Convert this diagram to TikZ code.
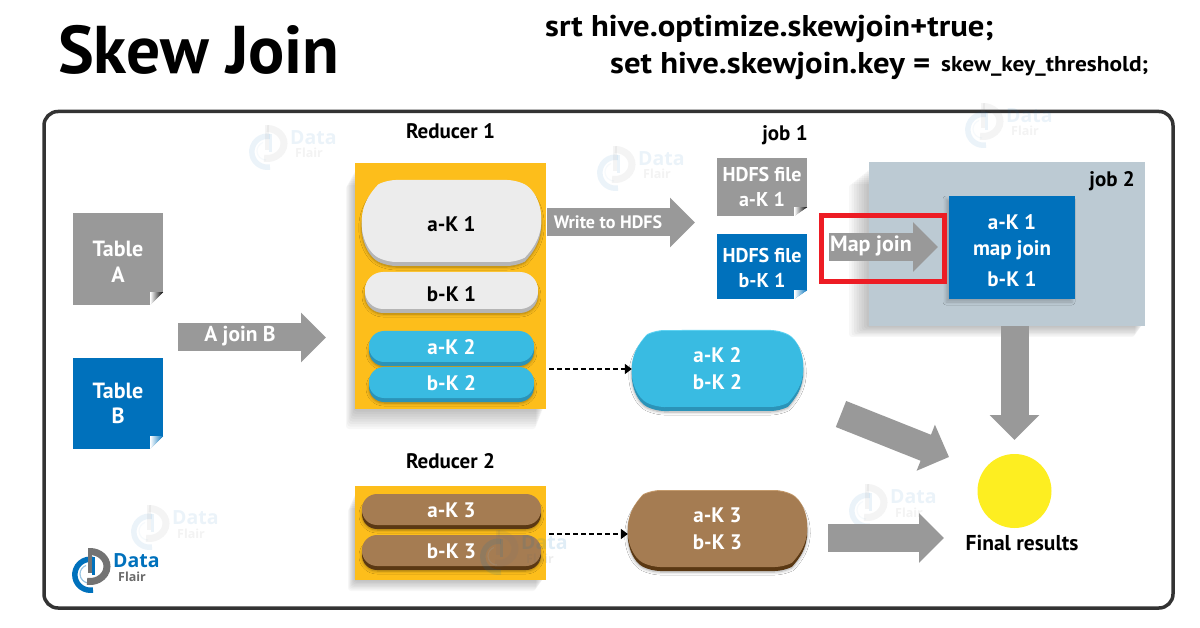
\documentclass[tikz,border=0pt]{standalone}
\usepackage{fontspec}
\setmainfont{PT Sans}
\newfontfamily\headfont[FakeStretch=1.09]{PT Sans}
\newfontfamily\logofont{Open Sans}
\usetikzlibrary{arrows.meta, positioning, calc, shapes.misc, shadows.blur}

\definecolor{dfgray}{HTML}{999999}
\definecolor{dfblue}{HTML}{0071BC}
\definecolor{dfyellow}{HTML}{FDBE1B}
\definecolor{dfsky}{HTML}{39BBE2}
\definecolor{dfskydark}{HTML}{2B93B8}
\definecolor{dfskylight}{HTML}{5FD3F2}
\definecolor{dfbrown}{HTML}{A57C52}
\definecolor{dfbrowndark}{HTML}{5A3813}
\definecolor{dfbrownlight}{HTML}{C49A6C}
\definecolor{dfpale}{HTML}{ECECEC}
\definecolor{dfpaledark}{HTML}{B5B5B5}
\definecolor{dfslate}{HTML}{BCCAD3}
\definecolor{dfred}{HTML}{ED1C24}
\definecolor{dfsun}{HTML}{FDEE21}

\tikzset{
  panel/.style={rectangle, inner sep=0pt, fill=#1},
  note/.style={rectangle, inner sep=0pt, fill=#1, text=white, font=\bfseries\fontsize{20}{24.5}\selectfont, align=center},
  pill/.style n args={3}{rounded rectangle, inner sep=0pt, fill=#1, align=center,
    blur shadow={shadow xshift=0pt, shadow yshift=-5pt, shadow blur steps=6, shadow blur radius=3pt, shadow opacity=35},
    preaction={fill=#2, transform canvas={yshift=-4pt}},
    preaction={fill=#3, transform canvas={yshift=1pt}},
    font=\bfseries\fontsize{21}{27}\selectfont},
  bigpill/.style={rounded rectangle arc length=125, rounded corners=9pt},
  label/.style={font=\bfseries\fontsize{21}{24}\selectfont, align=center},
  softlayer/.style={fill=black, fill opacity=0.03, rounded corners=3pt},
  blockarrow/.style={draw=dfgray, line width=28pt, -{Triangle[length=25pt, width=48pt, fill=dfgray]}},
  dasharrow/.style={line width=2.8pt, dash pattern=on 5pt off 3pt, -{Triangle[length=7pt, width=10pt]}},
}

\tikzset{
  dflogo/.pic={
    \draw[line width=5.5pt, draw=dfblue] (3,20) arc[start angle=80, end angle=280, radius=15.5];
    \draw[line width=1.2pt, draw=dfblue!40] (-1,13) arc[start angle=90, end angle=250, radius=9];
    \draw[line width=7pt, draw=dfgray!75!black] (0,-18.5) arc[start angle=270, end angle=460, x radius=17, y radius=15];
    \draw[line width=4pt, draw=dfgray!75!black] (0,-22) -- (0,3);
    \draw[line width=3.5pt, draw=dfblue] (3.5,-13) -- (3.5,5);
    \node[text=dfblue, font=\logofont\bfseries\fontsize{19.5}{19}\selectfont, anchor=base west, inner sep=0pt] (dfdata) at (23,-2.5) {Data};
    \node[text=dfgray!70!black, font=\logofont\bfseries\fontsize{12.5}{14}\selectfont, anchor=base west, inner sep=0pt] (dfflair) at (28,11) {Flair};
  }
}

\begin{document}
\begin{tikzpicture}[x=1pt, y=-1pt]
  \useasboundingbox (0,0) rectangle (1200,628);
  \fill[white] (0,0) rectangle (1200,628);

  % Headings
  \node[font=\bfseries\fontsize{67.5}{68}\selectfont, anchor=base west, inner sep=0pt] (title) at (58,74) {Skew Join};
  \node[font=\headfont\bfseries\fontsize{30}{30}\selectfont, anchor=base west, inner sep=0pt] (setone) at (545,37) {srt hive.optimize.skewjoin+true;};
  \node[font=\headfont\bfseries\fontsize{30}{30}\selectfont, anchor=base west, inner sep=0pt] (settwo) at (610,74) {set hive.skewjoin.key =};
  \node[font=\headfont\bfseries\fontsize{21.5}{22}\selectfont, anchor=base west, inner sep=0pt] (setthree) at (941,72) {skew\_key\_threshold;};

  % Outer frame
  \draw[line width=3.5pt, draw=black!80, rounded corners=14pt] (44,111.5) rectangle (1173,608);

  % Faint marks
  \foreach \mx/\my in {267/147, 615/168, 983/125, 149/527, 867/506}
    \pic[opacity=0.08] at (\mx,\my) {dflogo};

  % Tables
  \node[note=dfgray, font=\bfseries\fontsize{22}{26}\selectfont, minimum width=90pt, minimum height=92pt] (tablea) at (118,259) {\rule{0pt}{22pt}Table\\A};
  \node[note=dfblue, font=\bfseries\fontsize{22}{25}\selectfont, minimum width=90pt, minimum height=91pt] (tableb) at (118,403.5) {Table\\B};
  \node[note=dfgray, minimum width=90pt, minimum height=58pt] (hdfsa) at (762,187) {HDFS file\\a-K 1};
  \node[note=dfblue, minimum width=90pt, minimum height=65pt] (hdfsb) at (762,266.5) {\rule{0pt}{17pt}HDFS file\\b-K 1};

  % Folded corners
  \foreach \nd/\fw/\fh/\fc in {tablea/13/13/black, tableb/13/13/dfblue, hdfsa/13/9/black, hdfsb/13/9/dfblue} {
    \fill[white] (\nd.south east) -- ++(-\fw,0) -- ++(\fw,-\fh) -- cycle;
    \shade[left color=white, right color=\fc] (\nd.south east) ++(-\fw,0) -- ++(0,-\fh) -- ++(\fw,0) -- cycle;
  }

  % Soft edges
  \foreach \xa/\ya/\xb/\yb/\lw/\bd in {355/163/546/409/9/20, 355/486/546/580/7/11, 869/162/1145/326/20/11}
    \foreach \i in {1,...,8}
      \fill[softlayer] ({\xa-\lw*\i/8},{\ya+6+2*\i}) rectangle ({\xb-2-\i},{\yb+\bd*\i/8});

  % Reducer boxes
  \node[panel=dfyellow, minimum width=191pt, minimum height=246pt] (reducerone) at (450.5,286) {};
  \node[panel=dfyellow, minimum width=191pt, minimum height=94pt] (reducertwo) at (450.5,533) {};
  \node[panel=dfslate, minimum width=276pt, minimum height=164pt] (jobtwo) at (1007,244) {};

  \node[label, above=20pt of reducerone.north] (reduceronetext) {Reducer 1};
  \node[label, above=13pt of reducertwo.north] (reducertwotext) {Reducer 2};
  \node[label] (jobonetext) at (785,135) {job 1};

  % Keys
  \node[pill={dfpale}{dfpaledark}{dfpale}, bigpill, minimum width=179pt, minimum height=81pt] (akone) at (451.5,221.5) {\rule{0pt}{21pt}a-K 1};
  \node[pill={dfpale}{dfpaledark}{dfpale}, minimum width=173pt, minimum height=36pt] (bkone) at (451.5,291) {\rule{0pt}{21pt}b-K 1};
  \node[pill={dfsky}{dfskydark}{dfsky}, text=white, minimum width=165pt, minimum height=30pt] (aktwo) at (451.5,347) {a-K 2};
  \node[pill={dfsky}{dfskydark}{dfsky}, text=white, minimum width=165pt, minimum height=30pt] (bktwo) at (451.5,383) {b-K 2};
  \node[pill={dfbrown}{dfbrowndark}{dfbrown}, text=white, minimum width=179pt, minimum height=30pt] (akthree) at (451.5,510) {a-K 3};
  \node[pill={dfbrown}{dfbrowndark}{dfbrown}, text=white, minimum width=179pt, minimum height=30pt] (bkthree) at (451.5,551) {b-K 3};
  \node[pill={dfsky}{dfskydark}{dfskylight}, bigpill, text=white, minimum width=171pt, minimum height=76pt] (bigktwo) at (717.5,369) {a-K 2\\b-K 2};
  \node[pill={dfbrown}{dfbrowndark}{dfbrownlight}, bigpill, text=white, minimum width=179pt, minimum height=76pt] (bigkthree) at (717.5,529) {a-K 3\\b-K 3};

  % Job 2
  \node[label, anchor=base east, inner sep=0pt] (jobtwotext) at (1135,187) {job 2};
  \node[note=dfblue, font=\bfseries\fontsize{21}{26}\selectfont, minimum width=126pt, minimum height=103pt, blur shadow={shadow xshift=-3pt, shadow yshift=-3pt, shadow blur radius=3pt, shadow opacity=20}] (mapbox) at (1012,247.5) {\rule{0pt}{22pt}a-K 1\\map join\\[5pt]b-K 1};
  \node[draw=dfred, line width=5pt, minimum width=123pt, minimum height=66pt, inner sep=0pt] (mapframe) at (883,248.5) {};

  % Block arrows
  \coordinate (joinfrom) at (178,337.5);
  \coordinate (jointo) at (326,337.5);
  \coordinate (writefrom) at (547,222.5);
  \coordinate (writeto) at (695,222.5);
  \coordinate (mapfrom) at (829,247);
  \coordinate (mapto) at (938,247);
  \coordinate (downfrom) at (1014.5,326);
  \coordinate (downto) at (1014.5,440);
  \coordinate (slantfrom) at (841,414);
  \coordinate (slantto) at (949,457);
  \coordinate (flatfrom) at (828,538);
  \coordinate (flatto) at (944,538);
  \draw[blockarrow] (joinfrom) -- (jointo);
  \draw[blockarrow] (writefrom) -- (writeto);
  \draw[blockarrow] (mapfrom) -- (mapto);
  \draw[blockarrow] (downfrom) -- (downto);
  \draw[blockarrow] (slantfrom) -- (slantto);
  \draw[blockarrow] (flatfrom) -- (flatto);
  \node[label, text=white, font=\bfseries\fontsize{21.5}{24}\selectfont] (jointext) at (240,336) {A join B};
  \node[label, text=white, font=\bfseries\fontsize{18}{24}\selectfont] (writetext) at (608,222) {Write to HDFS};
  \node[label, text=white, font=\bfseries\fontsize{22}{24}\selectfont] (maptext) at (871,246) {Map join};

  % Spill paths
  \draw[dasharrow] (reducerone.east |- bigktwo.west) ++(3,0) -- (bigktwo.west);
  \draw[dasharrow] ([yshift=-5pt]reducertwo.east |- bigkthree.west) ++(3,0) -- ([yshift=-5pt]bigkthree.west);

  % Result
  \node[circle, fill=dfsun, minimum size=74pt, inner sep=0pt] (result) at (1014.5,491) {};
  \node[label, font=\bfseries\fontsize{21.5}{24}\selectfont, anchor=center] (resulttext) at (1022,543) {Final results};

  % Logo
  \pic[opacity=0.12] at (498,552) {dflogo};
  \pic at (90,570) {dflogo};
\end{tikzpicture}
\end{document}
